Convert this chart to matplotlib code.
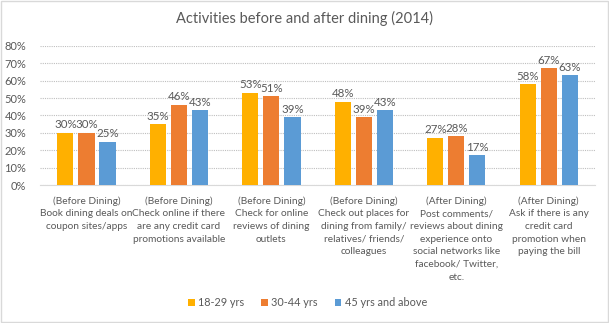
import matplotlib
matplotlib.use('Agg')
import matplotlib.pyplot as plt
import numpy as np

categories = [
    '(Before Dining)\nBook dining deals on\ncoupon sites/apps',
    '(Before Dining)\nCheck online if there\nare any credit card\npromotions available',
    '(Before Dining)\nCheck for online\nreviews of dining\noutlets',
    '(Before Dining)\nCheck out places for\ndining from family/\nrelatives/ friends/\ncolleagues',
    '(After Dining)\nPost comments/\nreviews about dining\nexperience onto\nsocial networks like\nfacebook/ Twitter,\netc.',
    '(After Dining)\nAsk if there is any\ncredit card\npromotion when\npaying the bill',
]
series_names = ['18-29 yrs', '30-44 yrs', '45 yrs and above']
age_18_29 = [30, 35, 53, 48, 27, 58]
age_30_44 = [30, 46, 51, 39, 28, 67]
age_45_up = [25, 43, 39, 43, 17, 63]
colors = ['#FFB000', '#ED7D31', '#5B9BD5']

text_color = '#595959'
plt.rcParams['font.family'] = ['Lato', 'DejaVu Sans']

fig = plt.figure(figsize=(6.09, 3.23), dpi=100)
ax = fig.add_axes([0.066, 0.427, 0.911, 0.431])

x = np.arange(len(categories))
step = 0.228
width = 0.175
for i, (vals, name, c) in enumerate(zip([age_18_29, age_30_44, age_45_up], series_names, colors)):
    pos = x + (i - 1) * step
    bars = ax.bar(pos, vals, width, color=c, label=name, zorder=3)
    for b, v in zip(bars, vals):
        ax.text(b.get_x() + b.get_width() / 2, v + 1.5, f'{v}%', ha='center', va='bottom',
                fontsize=8.3, color=text_color)

ax.set_xlim(-0.5, len(categories) - 0.5)
ax.set_ylim(0, 80)
ax.set_yticks(range(0, 81, 10))
ax.set_yticklabels([f'{t}%' for t in range(0, 81, 10)], fontsize=8, color=text_color)
ax.yaxis.grid(True, color='#BFBFBF', linestyle=(0, (1, 1)), linewidth=0.8, zorder=0)
ax.set_xticks(x)
ax.set_xticklabels(categories, fontsize=7.3, color=text_color, linespacing=1.52, va='top')
ax.tick_params(axis='both', length=0, pad=8)
ax.tick_params(axis='y', pad=10)
for s in ['top', 'right', 'left']:
    ax.spines[s].set_visible(False)
ax.spines['bottom'].set_color('#D9D9D9')

fig.suptitle('Activities before and after dining (2014)', y=0.965, fontsize=10.5, color=text_color)

fig.legend(loc='center', bbox_to_anchor=(0.505, 0.062), ncol=3, frameon=False,
           fontsize=7.8, handlelength=0.6, handleheight=0.6, columnspacing=1.6,
           handletextpad=0.3, labelcolor=text_color)

border = plt.Rectangle((0.001, 0.002), 0.997, 0.995, transform=fig.transFigure,
                       fill=False, edgecolor='#D9D9D9', linewidth=1)
fig.add_artist(border)

fig.savefig('out.png', dpi=100)
